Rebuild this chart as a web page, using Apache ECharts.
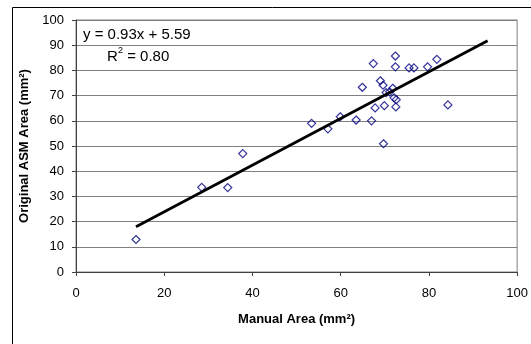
<!DOCTYPE html>
<html>
<head>
<meta charset="utf-8">
<script src="https://cdn.jsdelivr.net/npm/echarts@6/dist/echarts.min.js"></script>
<style>
  html, body { margin: 0; padding: 0; background: #fff; }
  #chart { width: 531px; height: 344px; }
</style>
</head>
<body>
<div id="chart"></div>
<script>
// manual area vs original ASM area
const manualArea = [13.6, 28.5, 34.4, 37.8, 53.4, 57.1, 59.9, 63.5, 67.0, 64.9, 67.4, 67.8, 69.0, 69.6, 69.9,
                    69.7, 70.3, 71.1, 71.8, 72.1, 72.6, 72.5, 72.4, 72.4, 75.5, 76.6, 79.7, 81.8, 84.3];
const asmArea    = [12.9, 33.6, 33.5, 47.0, 59.0, 56.8, 61.6, 60.3, 60.0, 73.3, 82.7, 65.1, 75.9, 74.1, 66.0,
                    50.9, 71.2, 71.5, 72.9, 69.1, 68.4, 65.5, 85.7, 81.4, 81.0, 81.0, 81.4, 84.4, 66.3];
// trend line ends
const trendX = [13.6, 93.3];
const trendY = [18.0, 91.8];
const xTicks = [0, 20, 40, 60, 80, 100];
const yTicks = [0, 10, 20, 30, 40, 50, 60, 70, 80, 90, 100];

const font = 'Liberation Sans, Arial, sans-serif';
const chart = echarts.init(document.getElementById('chart'));

const points = manualArea.map((x, i) => [x, asmArea[i]]);
const trend = trendX.map((x, i) => [x, trendY[i]]);

const option = {
    animation: false,
    textStyle: { fontFamily: font },
    grid: {
        left: 76, right: 8.5, top: 20, bottom: 72,
        show: true, borderColor: '#808080', borderWidth: 1
    },
    xAxis: {
        type: 'value',
        min: xTicks[0], max: xTicks[xTicks.length - 1], interval: 20,
        name: 'Manual Area (mm²)',
        nameLocation: 'middle', nameGap: 41,
        nameTextStyle: { fontSize: 13, fontWeight: 'bold', color: '#000', fontFamily: font },
        axisLine: { lineStyle: { color: '#404040', width: 1 } },
        axisTick: { show: true, length: 4, inside: false, lineStyle: { color: '#404040' } },
        axisLabel: { fontSize: 13, color: '#000', margin: 15, fontFamily: font },
        splitLine: { show: false }
    },
    yAxis: {
        type: 'value',
        min: yTicks[0], max: yTicks[yTicks.length - 1], interval: 10,
        name: 'Original ASM Area (mm²)',
        nameLocation: 'middle', nameGap: 44,
        nameTextStyle: { fontSize: 13, fontWeight: 'bold', color: '#000', fontFamily: font },
        axisLine: { show: true, lineStyle: { color: '#404040', width: 1 } },
        axisTick: { show: true, length: 4, lineStyle: { color: '#404040' } },
        axisLabel: { fontSize: 13, color: '#000', margin: 12, fontFamily: font },
        splitLine: { show: true, lineStyle: { color: '#808080', width: 1 } }
    },
    series: [
        {
            type: 'scatter',
            data: points,
            symbol: 'diamond',
            symbolSize: 8,
            itemStyle: { color: 'rgba(0,0,0,0)', borderColor: '#000080', borderWidth: 1.2 },
            z: 3
        },
        {
            type: 'line',
            data: trend,
            symbol: 'none',
            lineStyle: { color: '#000', width: 2.8 },
            z: 4
        }
    ],
    graphic: [
        {
            type: 'rect',
            shape: { x: 12.5, y: 7.5, width: 700, height: 500 },
            style: { fill: 'none', stroke: '#000', lineWidth: 1 },
            silent: true
        },
        {
            type: 'text', left: 83, top: 27,
            style: { text: 'y = 0.93x + 5.59', font: '15px ' + font, fill: '#000' }
        },
        {
            type: 'text', left: 107, top: 49,
            style: { text: 'R', font: '15px ' + font, fill: '#000' }
        },
        {
            type: 'text', left: 118, top: 46,
            style: { text: '2', font: '9px ' + font, fill: '#000' }
        },
        {
            type: 'text', left: 123, top: 49,
            style: { text: ' = 0.80', font: '15px ' + font, fill: '#000' }
        }
    ]
};

chart.setOption(option);
</script>
</body>
</html>
